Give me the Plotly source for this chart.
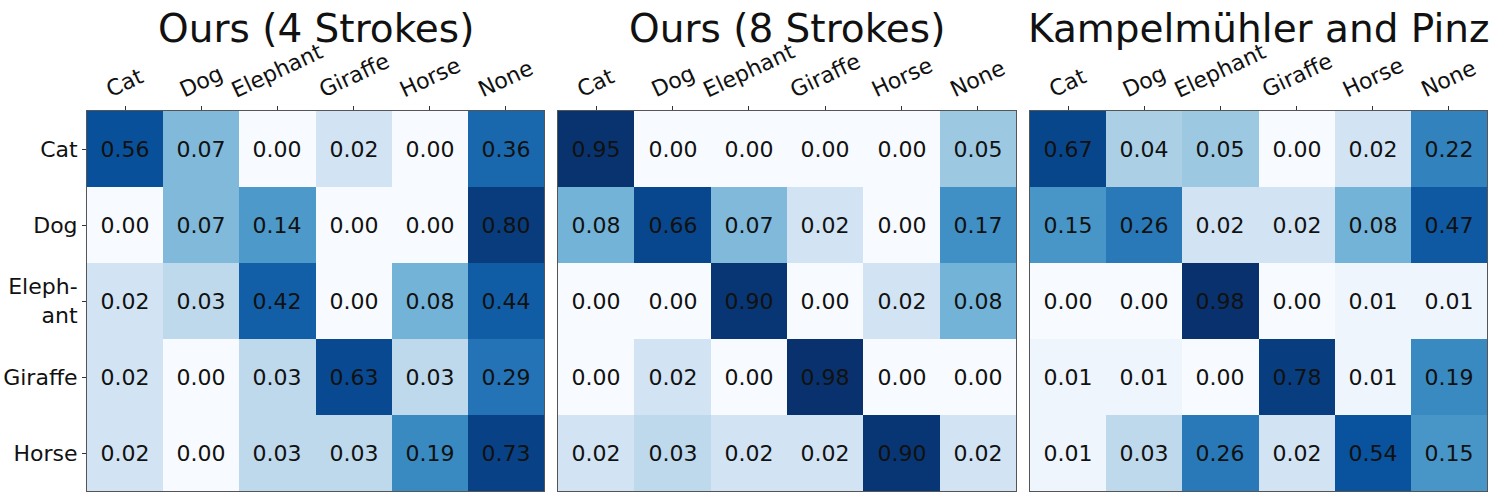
import numpy as np
import plotly.graph_objects as go

columns = ["Cat", "Dog", "Elephant", "Giraffe", "Horse", "None"]
row_labels = ["Cat", "Dog", "Eleph-<br>ant", "Giraffe", "Horse"]
titles = ["Ours (4 Strokes)", "Ours (8 Strokes)", "Kampelmühler and Pinz"]

ours_4 = [[0.56, 0.07, 0.00, 0.02, 0.00, 0.36],
          [0.00, 0.07, 0.14, 0.00, 0.00, 0.80],
          [0.02, 0.03, 0.42, 0.00, 0.08, 0.44],
          [0.02, 0.00, 0.03, 0.63, 0.03, 0.29],
          [0.02, 0.00, 0.03, 0.03, 0.19, 0.73]]
ours_8 = [[0.95, 0.00, 0.00, 0.00, 0.00, 0.05],
          [0.08, 0.66, 0.07, 0.02, 0.00, 0.17],
          [0.00, 0.00, 0.90, 0.00, 0.02, 0.08],
          [0.00, 0.02, 0.00, 0.98, 0.00, 0.00],
          [0.02, 0.03, 0.02, 0.02, 0.90, 0.02]]
kampel_pinz = [[0.67, 0.04, 0.05, 0.00, 0.02, 0.22],
               [0.15, 0.26, 0.02, 0.02, 0.08, 0.47],
               [0.00, 0.00, 0.98, 0.00, 0.01, 0.01],
               [0.01, 0.01, 0.00, 0.78, 0.01, 0.19],
               [0.01, 0.03, 0.26, 0.02, 0.54, 0.15]]

panels = [ours_4, ours_8, kampel_pinz]

blues = ['rgb(247,251,255)', 'rgb(222,235,247)', 'rgb(198,219,239)',
         'rgb(158,202,225)', 'rgb(107,174,214)', 'rgb(66,146,198)',
         'rgb(33,113,181)', 'rgb(8,81,156)', 'rgb(8,48,107)']
cscale = [[i / (len(blues) - 1), c] for i, c in enumerate(blues)]

W, H = 1495, 495
x_doms = [(87, 544), (558, 1016), (1030, 1487)]
y_dom = [1 - 491 / H, 1 - 111 / H]
FONT = "DejaVu Sans"
VMIN = 0.008

fig = go.Figure()
for i, data in enumerate(panels):
    arr = np.array(data, dtype=float)
    z = np.log10(np.clip(arr, VMIN, 1.0))
    txt = [[f"{v:.2f}" for v in row] for row in data]
    sfx = "" if i == 0 else str(i + 1)
    fig.add_trace(go.Heatmap(
        z=z, x=list(range(len(columns))), y=list(range(len(row_labels))),
        text=txt, texttemplate="%{text}",
        textfont=dict(family=FONT, size=22, color="#111"),
        colorscale=cscale, zmin=np.log10(VMIN), zmax=0, showscale=False,
        xaxis="x" + sfx, yaxis="y" + sfx, hoverinfo="skip"))
    x0, x1 = x_doms[i]
    fig.layout["xaxis" + sfx] = dict(
        domain=[x0 / W, x1 / W], range=[-0.5, 5.5], side="top",
        anchor="y" + sfx, tickvals=list(range(6)), showticklabels=False,
        ticks="outside", ticklen=4, tickcolor="#333", showgrid=False,
        zeroline=False, showline=True, linecolor="#555", linewidth=1, mirror=True)
    fig.layout["yaxis" + sfx] = dict(
        domain=y_dom, range=[4.5, -0.5], anchor="x" + sfx,
        tickvals=list(range(5)), ticktext=row_labels,
        showticklabels=(i == 0), ticks="outside" if i == 0 else "",
        ticklen=4, tickcolor="#333",
        tickfont=dict(family=FONT, size=22, color="#111"),
        showgrid=False, zeroline=False, showline=True, linecolor="#555",
        linewidth=1, mirror=True)
    fig.add_annotation(text=titles[i], x=(x0 + x1) / 2 / W, y=1 - 4 / H,
                       xref="paper", yref="paper", xanchor="center", yanchor="top",
                       showarrow=False, font=dict(family=FONT, size=39, color="#111"))
    for j, c in enumerate(columns):
        fig.add_annotation(text=c, x=j, y=1, xref="x" + sfx, yref="y" + sfx + " domain",
                           xanchor="center", yanchor="bottom", yshift=6, textangle=-25,
                           showarrow=False, font=dict(family=FONT, size=22, color="#111"))

fig.update_layout(width=W, height=H, margin=dict(l=0, r=0, t=0, b=0),
                  paper_bgcolor="white", plot_bgcolor="white", showlegend=False)
fig.write_html("out.html", config={"displayModeBar": False},
               post_script="document.body.style.margin='0';")
